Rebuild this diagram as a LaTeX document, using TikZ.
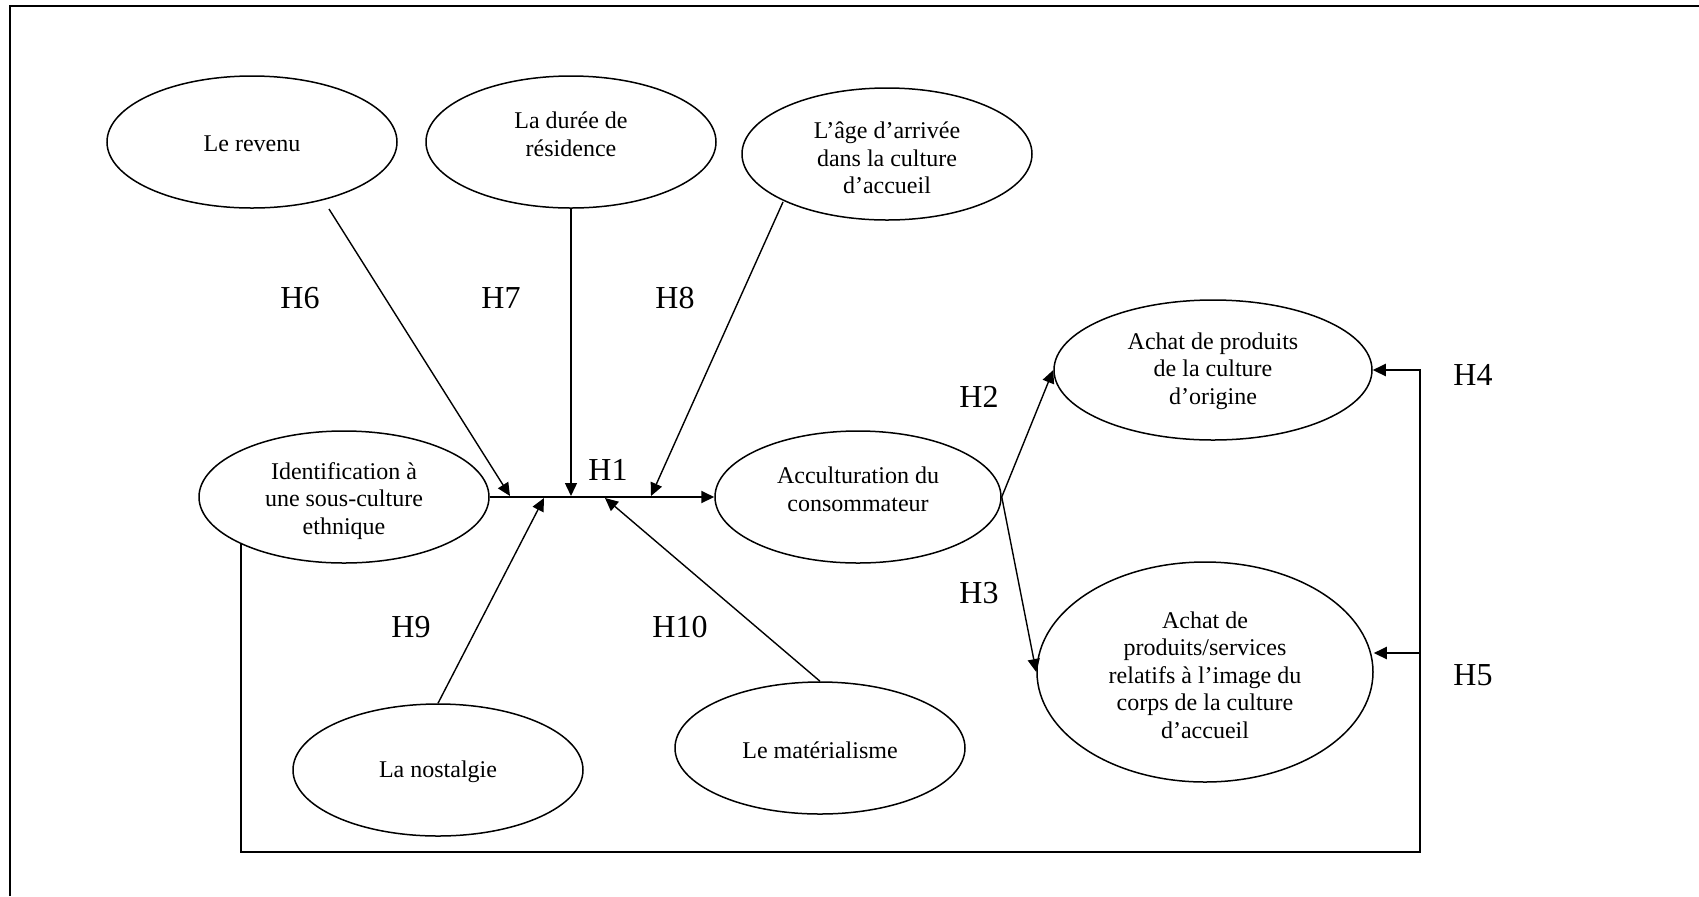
\documentclass[tikz,border=0pt]{standalone}
\usepackage{fontspec}
\setmainfont{Liberation Serif}
\usetikzlibrary{shapes.geometric,arrows.meta}
\tikzset{
  var/.style={draw, ellipse, line width=0.75pt, inner sep=0pt, minimum width=145pt, minimum height=66pt},
  txt/.style={align=center, inner sep=0pt, font=\fontsize{12}{13.8}\selectfont},
  hlab/.style={inner sep=0pt, font=\fontsize{16}{19}\selectfont},
  arr/.style={line width=0.7pt, -{Triangle[length=6.5pt,width=6pt]}},
  mainln/.style={line width=1pt, -{Triangle[length=6.5pt,width=6pt]}},
  fb/.style={line width=1.1pt, -{Triangle[length=6.5pt,width=6pt]}},
  frame/.style={line width=1pt}
}
\begin{document}
\begin{tikzpicture}[x=0.5pt,y=-0.5pt]
\useasboundingbox (0,0) rectangle (1699,896);
\fill[white] (0,0) rectangle (1699,896);
% frame (only top and left edges are visible)
\coordinate (fa) at (10,896);
\coordinate (fb) at (10,6);
\coordinate (fc) at (1699,6);
\draw[frame] (fa) -- (fb) -- (fc);

% variables
\node[var] (rev) at (252,142) {};
\node[var] (dur) at (571,142) {};
\node[var] (age) at (887,154) {};
\node[var] (ident) at (344,497) {};
\node[var, minimum width=143pt] (acc) at (858,497) {};
\node[var, minimum width=159pt, minimum height=70pt] (ach1) at (1213,370) {};
\node[var, minimum width=168pt, minimum height=110pt] (ach2) at (1205,672) {};
\node[var] (nos) at (438,770) {};
\node[var] (mat) at (820,748) {};

% texts
\node[txt] (revt) at (252,144) {Le revenu};
\node[txt] (durt) at (571,134) {La durée de\\résidence};
\node[txt] (aget) at (887,158) {L’âge d’arrivée\\dans la culture\\d’accueil};
\node[txt] (identt) at (344,501) {Identification à\\une sous-culture\\ethnique};
\node[txt] (acct) at (858,489) {Acculturation du\\consommateur};
\node[txt] (ach1t) at (1213,371) {Achat de produits\\de la culture\\d’origine};
\node[txt] (ach2t) at (1205,675) {Achat de\\produits/services\\relatifs à l’image du\\corps de la culture\\d’accueil};
\node[txt] (nost) at (438,772) {La nostalgie};
\node[txt] (matt) at (820,750) {Le matérialisme};

% hypothesis labels
\node[hlab] (h6) at (300,298) {H6};
\node[hlab] (h7) at (501,298) {H7};
\node[hlab] (h8) at (675,298) {H8};
\node[hlab] (h1) at (608,470) {H1};
\node[hlab] (h9) at (411,627) {H9};
\node[hlab] (h10) at (680,627) {H10};
\node[hlab] (h2) at (979,397) {H2};
\node[hlab] (h3) at (979,593) {H3};
\node[hlab] (h4) at (1473,375) {H4};
\node[hlab] (h5) at (1473,675) {H5};

% junction points on the H1 path
\coordinate (s6) at (329,209);
\coordinate (s8) at (783,202);
\coordinate (j6) at (510,496);
\coordinate (j7) at (571,496);
\coordinate (j8) at (651,496);
\coordinate (j9) at (544,498);
\coordinate (j10) at (605,498);

% main path H1
\draw[mainln] (ident.east) -- (acc.west);
% moderators
\draw[arr] (s6) -- (j6);
\draw[arr] (dur.south) -- (j7);
\draw[arr] (s8) -- (j8);
\draw[arr] (nos.north) -- (j9);
\draw[arr] (mat.north) -- (j10);
% H2, H3
\draw[arr] (acc.east) -- (ach1.west);
\draw[arr] (acc.east) -- (ach2.west);
% feedback H4, H5
\coordinate (fbl) at (242,852);
\coordinate (fbr) at (1420,852);
\coordinate (h5s) at (1420,653);
\draw[fb] (ident.south west) -- (ident.south west |- fbl) -- (fbr) -- (fbr |- ach1.east) -- (ach1.east);
\draw[fb] (h5s) -- (h5s -| ach2.east);
\end{tikzpicture}
\end{document}
